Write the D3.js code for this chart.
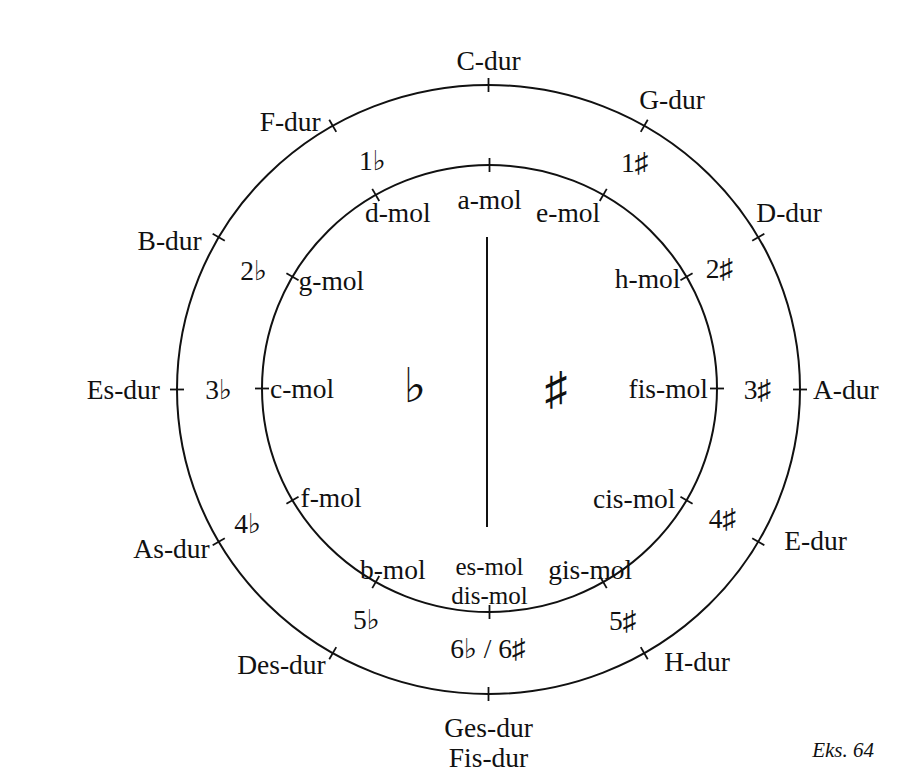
<!DOCTYPE html>
<html><head><meta charset="utf-8">
<script src="https://cdn.jsdelivr.net/npm/d3@7"></script>
<style>
html,body{margin:0;padding:0;background:#fff;}
svg text{font-family:"Liberation Serif","Times New Roman","DejaVu Serif",serif;fill:#111;}
</style></head>
<body>
<svg id="chart" width="904" height="774"></svg>
<script>
// ---- data ----
const majorKeys = ["C-dur","G-dur","D-dur","A-dur","E-dur","H-dur",["Ges-dur","Fis-dur"],"Des-dur","As-dur","Es-dur","B-dur","F-dur"];
const minorKeys = ["a-mol","e-mol","h-mol","fis-mol","cis-mol","gis-mol",["es-mol","dis-mol"],"b-mol","f-mol","c-mol","g-mol","d-mol"];
const signatures = ["","1♯","2♯","3♯","4♯","5♯","6♭ / 6♯","5♭","4♭","3♭","2♭","1♭"];
const sideSymbols = ["♭","♯"];
const caption = "Eks. 64";

// ---- layout ----
const svg = d3.select("#chart");
const W = 904, H = 774;
svg.append("rect").attr("width",W).attr("height",H).attr("fill","#fff");

const outer = {cx:488.5, cy:389.5, rx:311.5, ry:304.5};
const inner = {cx:489.5, cy:388.5, rx:227.5, ry:223.5};
const angle = d3.scaleLinear().domain([0,12]).range([0, 2*Math.PI]);
const pt = (e, i, extra=0) => {
  const a = angle(i);
  return [e.cx + (e.rx+extra)*Math.sin(a), e.cy - (e.ry+extra)*Math.cos(a)];
};

const g = svg.append("g");
[outer, inner].forEach(e => {
  g.append("ellipse").attr("cx",e.cx).attr("cy",e.cy).attr("rx",e.rx).attr("ry",e.ry)
    .attr("fill","none").attr("stroke","#111").attr("stroke-width",2);
  g.selectAll(null).data(d3.range(12)).enter().append("line")
    .attr("x1",i=>pt(e,i,-7)[0]).attr("y1",i=>pt(e,i,-7)[1])
    .attr("x2",i=>pt(e,i,7)[0]).attr("y2",i=>pt(e,i,7)[1])
    .attr("stroke","#111").attr("stroke-width",1.8);
});

// centre divider
g.append("line").attr("x1",487).attr("x2",487).attr("y1",237).attr("y2",527)
  .attr("stroke","#111").attr("stroke-width",2);

const FS = 27.5;
// label offsets relative to tick: [dx, dy, anchor, lineGap, fontSize]
const outerOff = [[0,-25,"middle"],[-5,-26,"start"],[-2,-25,"start"],[13,0,"start"],[26,-1,"start"],[20,8,"start"],
  [0,33,"middle",30],[-7,11,"end"],[-9,7,"end"],[-17,0,"end"],[-17,3,"end"],[-12,-4,"end"]];
const innerOff = [[0,34,"middle"],[-3,18,"end"],[-6,2,"end"],[-9,0,"end"],[-11,-2,"end"],[-13,-13,"middle"],
  [0,-46,"middle",29,25],[17,-13,"middle"],[8,-3,"start"],[8,0,"start"],[6,4,"start"],[22,18,"middle"]];
const sigOff = [[0,0],[12,2],[-2,11],[0,0],[1,-3],[0,3],[0,-5],[13,2],[-7,2],[0,0],[-1,13],[19,0]];

function drawLabels(keys, e, off){
  keys.forEach((k,i)=>{
    const p = pt(e,i);
    const lines = Array.isArray(k) ? k : [k];
    const x = p[0]+off[i][0], y = p[1]+off[i][1];
    lines.forEach((s,j)=>{
      g.append("text").attr("x",x).attr("y",y+j*(off[i][3]||0))
        .attr("text-anchor",off[i][2]).attr("dominant-baseline","central")
        .attr("font-size",off[i][4]||FS).text(s);
    });
  });
}
drawLabels(majorKeys, outer, outerOff);
drawLabels(minorKeys, inner, innerOff);

const mid = {cx:488, cy:389, rx:(outer.rx+inner.rx)/2, ry:(outer.ry+inner.ry)/2};
signatures.forEach((s,i)=>{
  if(!s) return;
  const p = pt(mid,i);
  g.append("text").attr("x",p[0]+sigOff[i][0]).attr("y",p[1]+sigOff[i][1])
    .attr("text-anchor","middle").attr("dominant-baseline","central")
    .attr("font-size",FS).text(s);
});

// big flat / sharp symbols
g.append("text").attr("x",415).attr("y",385).attr("text-anchor","middle").attr("dominant-baseline","central")
  .attr("font-size",48).attr("font-weight","bold").text(sideSymbols[0]);
g.append("text").attr("x",556).attr("y",388).attr("text-anchor","middle").attr("dominant-baseline","central")
  .attr("font-size",46).text(sideSymbols[1]);

g.append("text").attr("x",874).attr("y",750).attr("text-anchor","end").attr("dominant-baseline","central")
  .attr("font-size",21).attr("font-style","italic").text(caption);
</script>
</body></html>
